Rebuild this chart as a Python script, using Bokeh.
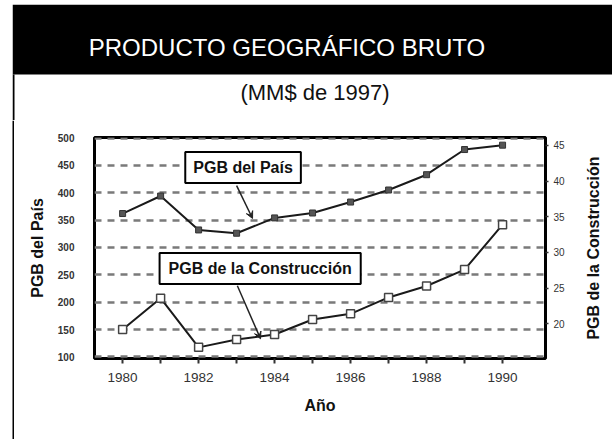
import math
from bokeh.plotting import figure
from bokeh.layouts import column, row
from bokeh.models import (Range1d, LinearAxis, FixedTicker, Label, Arrow, VeeHead)
from bokeh.embed import file_html
from bokeh.resources import INLINE

# ---- data ----
years = [1980, 1981, 1982, 1983, 1984, 1985, 1986, 1987, 1988, 1989, 1990]
pgb_pais = [362, 394, 332, 326, 354, 363, 383, 405, 433, 479, 487]
pgb_construccion = [19.2, 23.6, 16.7, 17.8, 18.5, 20.6, 21.4, 23.7, 25.3, 27.6, 33.9]
left_ticks = [100, 150, 200, 250, 300, 350, 400, 450, 500]
right_ticks = [15, 20, 25, 30, 35, 40, 45]
year_ticks = [1980, 1982, 1984, 1986, 1988, 1990]
minor_year_ticks = [1981, 1983, 1985, 1987, 1989]

title_text = "PRODUCTO GEOGRÁFICO BRUTO"
subtitle_text = "(MM$ de 1997)"
label_pais = "PGB del País"
label_constr = "PGB de la Construcción"
x_label = "Año"

FONT = "Liberation Sans"


def bare(fig):
    fig.grid.visible = False
    fig.outline_line_color = None
    fig.background_fill_color = "white"
    fig.border_fill_color = "white"
    return fig


# ---- header (black band with title, subtitle) ----
header = bare(figure(width=612, height=120, output_backend="svg", toolbar_location=None,
                     x_range=Range1d(12, 612), y_range=Range1d(120, 4),
                     x_axis_location=None, y_axis_location=None,
                     min_border_left=12, min_border_right=0, min_border_top=4,
                     min_border_bottom=0))
header.quad(left=[12], right=[612], top=[4], bottom=[74], fill_color="black",
            line_color=None)
header.quad(left=[12], right=[14], top=[74], bottom=[120], fill_color="black",
            line_color=None)
header.add_layout(Label(x=286.5, y=47, text=title_text, text_align="center",
                        text_baseline="middle", text_font=FONT, text_font_size="24px",
                        text_color="white"))
header.add_layout(Label(x=314.5, y=91.5, text=subtitle_text, text_align="center",
                        text_baseline="middle", text_font=FONT, text_font_size="22px",
                        text_color="#111111"))

# ---- thin left page border ----
border = bare(figure(width=14, height=319, output_backend="svg", toolbar_location=None,
                     x_range=Range1d(0, 14), y_range=Range1d(0, 1),
                     x_axis_location=None, y_axis_location=None,
                     min_border_left=0, min_border_right=0, min_border_top=0,
                     min_border_bottom=0))
border.frame_align = False
border.quad(left=[12], right=[14], top=[1], bottom=[0], fill_color="black", line_color=None)

# ---- right axis title panel ----
rlab = bare(figure(width=30, height=319, output_backend="svg", toolbar_location=None,
                   x_range=Range1d(582, 612), y_range=Range1d(439, 120),
                   x_axis_location=None, y_axis_location=None,
                   min_border_left=0, min_border_right=0, min_border_top=0,
                   min_border_bottom=0))
rlab.frame_align = False
rlab.add_layout(Label(x=593, y=247.5, text=label_constr, angle=math.pi / 2,
                      text_align="center", text_baseline="middle", text_font=FONT,
                      text_font_size="16px", text_font_style="bold",
                      text_color="#111111"))

# ---- main chart ----
p = figure(width=568, height=319, output_backend="svg", toolbar_location=None,
           x_range=Range1d(1979.26, 1991.13), y_range=Range1d(97, 501),
           min_border_left=80, min_border_right=37, min_border_top=17,
           min_border_bottom=81)
p.extra_y_ranges = {"right": Range1d(15.14, 46.12)}
p.background_fill_color = "white"
p.border_fill_color = "white"
p.outline_line_color = "black"
p.outline_line_width = 3

# grid
p.xgrid.visible = False
p.ygrid.ticker = FixedTicker(ticks=left_ticks)
p.ygrid.grid_line_color = "#7a7a7a"
p.ygrid.grid_line_width = 2.5
p.ygrid.grid_line_dash = "7 6"

# x axis
xa = p.xaxis[0]
xa.ticker = FixedTicker(ticks=year_ticks, minor_ticks=minor_year_ticks)
xa.axis_line_color = None
xa.major_tick_in = 0
xa.major_tick_out = 5
xa.minor_tick_in = 0
xa.minor_tick_out = 5
xa.major_tick_line_color = "#333333"
xa.minor_tick_line_color = "#333333"
xa.major_tick_line_width = 2
xa.minor_tick_line_width = 2
xa.major_label_text_font = FONT
xa.major_label_text_font_size = "13.5px"
xa.major_label_text_color = "#333333"
xa.major_label_standoff = 9
xa.axis_label = x_label
xa.axis_label_text_font = FONT
xa.axis_label_text_font_style = "bold"
xa.axis_label_text_font_size = "16px"
xa.axis_label_text_color = "#111111"
xa.axis_label_standoff = 12

# left axis
ya = p.yaxis[0]
ya.ticker = FixedTicker(ticks=left_ticks)
ya.axis_line_color = None
ya.major_tick_in = 0
ya.major_tick_out = 0
ya.minor_tick_line_color = None
ya.major_label_text_font = FONT
ya.major_label_text_font_size = "10px"
ya.major_label_text_font_style = "bold"
ya.major_label_text_color = "#333333"
ya.major_label_standoff = 20
ya.axis_label = label_pais
ya.axis_label_text_font = FONT
ya.axis_label_text_font_style = "bold"
ya.axis_label_text_font_size = "16px"
ya.axis_label_text_color = "#111111"
ya.axis_label_standoff = 9

# right axis (its title is drawn in the panel at the right)
ra = LinearAxis(y_range_name="right", ticker=FixedTicker(ticks=right_ticks))
ra.axis_line_color = None
ra.major_tick_in = 0
ra.major_tick_out = 3
ra.major_tick_line_color = "#333333"
ra.major_tick_line_width = 1.5
ra.minor_tick_line_color = None
ra.major_label_text_font = FONT
ra.major_label_text_font_size = "10px"
ra.major_label_text_color = "#333333"
ra.major_label_standoff = 5
p.add_layout(ra, "right")

# series
p.line(years, pgb_pais, line_color="#1a1a1a", line_width=2)
p.scatter(years, pgb_pais, marker="square", size=6, fill_color="#555555",
          line_color="#333333", line_width=1)
p.line(years, pgb_construccion, y_range_name="right", line_color="#1a1a1a", line_width=2)
p.scatter(years, pgb_construccion, y_range_name="right", marker="square", size=8,
          fill_color="white", line_color="#444444", line_width=1.5)

# series labels and pointers
p.add_layout(Label(x=1983.17, y=446, text=label_pais, text_align="center",
                   text_baseline="middle", text_font=FONT, text_font_size="16px",
                   text_font_style="bold", text_color="#111111",
                   border_line_color="black", border_line_width=2,
                   background_fill_color="white", padding=(8, 7)))
p.add_layout(Label(x=1983.62, y=261.6, text=label_constr, text_align="center",
                   text_baseline="middle", text_font=FONT, text_font_size="16px",
                   text_font_style="bold", text_color="#111111",
                   border_line_color="black", border_line_width=2,
                   background_fill_color="white", padding=(9, 7)))
p.add_layout(Arrow(end=VeeHead(size=7, fill_color="#222222", line_color="#222222"),
                   x_start=1983.0, y_start=413, x_end=1983.42, y_end=353,
                   line_color="#222222", line_width=1.5))
p.add_layout(Arrow(end=VeeHead(size=7, fill_color="#222222", line_color="#222222"),
                   x_start=1983.02, y_start=230, x_end=1983.63, y_end=133,
                   line_color="#222222", line_width=1.5))

layout = column(header, row(border, p, rlab, spacing=0), spacing=0)
open("out.html", "w").write(file_html(layout, INLINE))
